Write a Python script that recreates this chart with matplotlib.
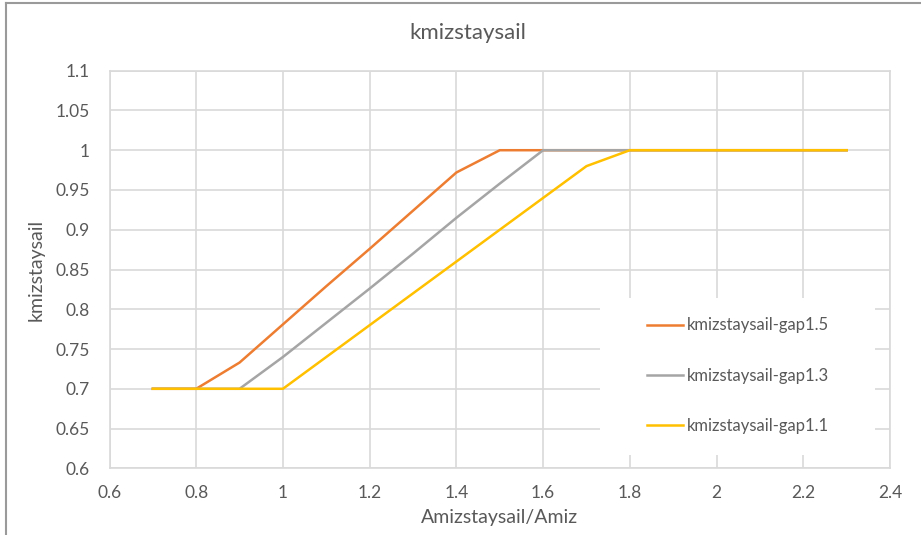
import matplotlib
matplotlib.use('Agg')
from matplotlib import pyplot as plt
from matplotlib.lines import Line2D
from matplotlib.patches import Rectangle

plt.rcParams['font.family'] = ['Lato', 'DejaVu Sans']

txt_color = '#595959'
grid_color = '#D9D9D9'

# ratio Amizstaysail/Amiz
ratio = [0.7, 0.8, 0.9, 1.0, 1.1, 1.2, 1.3, 1.4, 1.5, 1.6, 1.7, 1.8, 1.9, 2.0, 2.1, 2.2, 2.3]

k_gap15 = [0.7, 0.7, 0.733, 0.781, 0.829, 0.876, 0.924, 0.972, 1.0, 1.0, 1.0, 1.0, 1.0, 1.0, 1.0, 1.0, 1.0]
k_gap13 = [0.7, 0.7, 0.7, 0.74, 0.783, 0.826, 0.870, 0.915, 0.958, 1.0, 1.0, 1.0, 1.0, 1.0, 1.0, 1.0, 1.0]
k_gap11 = [0.7, 0.7, 0.7, 0.7, 0.74, 0.78, 0.82, 0.86, 0.90, 0.94, 0.98, 1.0, 1.0, 1.0, 1.0, 1.0, 1.0]

series = [
    ('kmizstaysail-gap1.5', k_gap15, '#ED7D31'),
    ('kmizstaysail-gap1.3', k_gap13, '#A5A5A5'),
    ('kmizstaysail-gap1.1', k_gap11, '#FFC000'),
]

xticks = [0.6, 0.8, 1.0, 1.2, 1.4, 1.6, 1.8, 2.0, 2.2, 2.4]
xticklabels = ['0.6', '0.8', '1', '1.2', '1.4', '1.6', '1.8', '2', '2.2', '2.4']
yticks = [0.6, 0.65, 0.7, 0.75, 0.8, 0.85, 0.9, 0.95, 1.0, 1.05, 1.1]
yticklabels = ['0.6', '0.65', '0.7', '0.75', '0.8', '0.85', '0.9', '0.95', '1', '1.05', '1.1']

W, H = 921, 535
fig = plt.figure(figsize=(W / 100, H / 100), dpi=100)
ax = fig.add_axes([109.5 / W, 1 - 468.3 / H, (890 - 109.5) / W, (468.3 - 70.7) / H])

for name, vals, col in series:
    ax.plot(ratio, vals, color=col, lw=1.8, label=name, zorder=3,
            solid_joinstyle='miter')

ax.set_xlim(0.6, 2.4)
ax.set_ylim(0.6, 1.1)
ax.set_xticks(xticks)
ax.set_xticklabels(xticklabels)
ax.set_yticks(yticks)
ax.set_yticklabels(yticklabels)
ax.tick_params(length=0, labelsize=12.5, labelcolor=txt_color)
ax.tick_params(axis='y', pad=14)
ax.tick_params(axis='x', pad=12)
ax.grid(True, color=grid_color, lw=1.2)
ax.set_axisbelow(True)
for sp in ax.spines.values():
    sp.set_color(grid_color)
    sp.set_linewidth(1.2)

ax.set_xlabel('Amizstaysail/Amiz', fontsize=14, color=txt_color, labelpad=6)
ax.set_ylabel('kmizstaysail', fontsize=14, color=txt_color, labelpad=8)
fig.text(468 / W, 1 - 33 / H, 'kmizstaysail', fontsize=16, color=txt_color,
         ha='center', va='center')

# white box behind legend
ax.add_patch(Rectangle((600 / W, 1 - 455 / H), 275 / W, 157 / H,
                       transform=fig.transFigure, facecolor='white',
                       edgecolor='none', zorder=2.5, clip_on=False))
leg = ax.legend(loc='center left', bbox_to_anchor=(647 / W, 1 - 375.5 / H),
                bbox_transform=fig.transFigure, frameon=False, fontsize=12,
                labelspacing=2.05, handlelength=2.15, handletextpad=0.25,
                borderpad=0, borderaxespad=0)
for t in leg.get_texts():
    t.set_color(txt_color)
leg.set_zorder(4)

# outer frame (top and left edges visible in the screenshot)
fig.add_artist(Line2D([6 / W, 1], [1 - 3 / H, 1 - 3 / H], color='#9A9A9A', lw=1.5))
fig.add_artist(Line2D([6 / W, 6 / W], [0, 1 - 3 / H], color='#9A9A9A', lw=1.5))

fig.savefig('out.png', dpi=100)
